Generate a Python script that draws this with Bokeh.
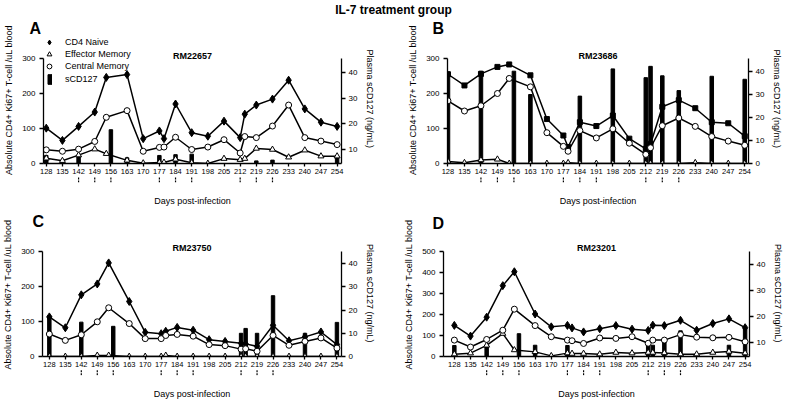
from bokeh.plotting import figure
from bokeh.models import (Range1d, LinearAxis, FixedTicker, Label, Arrow, NormalHead,
                          Legend, LegendItem)
from bokeh.layouts import column, row
from bokeh.embed import file_html
from bokeh.resources import INLINE

FONT = "Liberation Sans"

TITLE = "IL-7 treatment group"
X_TICKS = [128, 135, 142, 149, 156, 163, 170, 177, 184, 191, 198, 205, 212, 219, 226,
           233, 240, 247, 254]
ARROW_DAYS = [142, 149, 156, 177, 184, 191, 212, 219, 226]
SAMPLE_DAYS = [128, 135, 142, 149, 154, 163, 170, 177, 179, 184, 191, 198, 205, 212, 214,
               219, 226, 233, 240, 247, 254]

# Panel A - RM22657
A_naive = [101, 66, 106, 147, 246, 254, 71, 93, 71, 170, 88, 78, 121, 74, 141, 167, 184,
           238, 156, 118, 106]
A_em = [15, 8, 24, 41, 28, 9, 1, 3, 3, 12, 2, 0, 14, 11, 14, 43, 40, 18, 38, 21, 21]
A_cm = [39, 35, 41, 63, 132, 151, 35, 46, 47, 75, 40, 47, 68, 30, 77, 74, 107, 167, 74,
        64, 54]
A_bar_days = [128, 142, 156, 163, 177, 184, 191, 219, 226, 254]
A_bar = [7.9, 8.0, 17.8, 7.0, 7.9, 8.2, 8.4, 5.8, 6.1, 7.6]

# Panel B - RM23686
B_naive = [255, 223, 256, 276, 283, 252, 127, 80, 47, 118, 107, 137, 71, 42, 55, 162, 181,
           158, 118, 115, 78]
B_em = [6, 2, 10, 12, 0, 0, 0, 0, 2, 0, 0, 0, 0, 0, 0, 0, 0, 2, 0, 0, 0]
B_cm = [179, 150, 165, 200, 243, 219, 88, 49, 35, 94, 73, 99, 58, 26, 45, 108, 130, 106,
        77, 64, 52]
B_bar_days = [128, 142, 156, 163, 184, 198, 212, 214, 219, 226, 240, 254]
B_bar = [39.7, 40.0, 40.0, 29.9, 29.2, 41.0, 37.2, 42.1, 38.0, 31.6, 37.8, 36.5]

# Panel C - RM23750
C_naive = [113, 82, 176, 207, 267, 157, 69, 65, 72, 83, 75, 48, 43, 38, 36, 29, 89, 45,
           56, 70, 34]
C_em = [0, 0, 0, 3, 3, 0, 0, 0, 3, 0, 0, 0, 0, 0, 0, 0, 0, 0, 0, 0, 0]
C_cm = [64, 46, 62, 99, 139, 94, 51, 51, 60, 63, 58, 34, 31, 21, 22, 15, 60, 32, 43, 53,
        24]
C_bar_days = [128, 142, 156, 212, 214, 219, 226, 240, 254]
C_bar = [17.6, 14.8, 13.0, 10.0, 12.1, 10.0, 26.2, 10.0, 14.7]

# Panel D - RM23201
D_naive = [148, 97, 187, 337, 403, 202, 141, 148, 136, 117, 132, 147, 130, 124, 149, 147,
           172, 125, 157, 179, 137]
D_em = [11, 16, 53, 109, 31, 22, 3, 16, 14, 14, 11, 19, 16, 19, 19, 17, 11, 11, 19, 24, 16]
D_cm = [78, 45, 81, 125, 225, 147, 94, 78, 75, 62, 88, 86, 94, 63, 78, 78, 104, 92, 89,
        91, 70]
D_bar_days = [128, 142, 156, 163, 177, 212, 214, 219, 226, 247, 254]
D_bar = [9.0, 9.1, 13.5, 9.1, 9.0, 9.3, 9.1, 11.5, 14.6, 9.1, 15.5]

LEGEND_LABELS = ["CD4 Naive", "Effector Memory", "Central Memory", "sCD127"]


def style_axis(ax, tick_out=4):
    ax.axis_line_color = "black"
    ax.axis_line_width = 1.3
    ax.major_tick_line_color = "black"
    ax.major_tick_line_width = 1.3
    ax.major_tick_in = 0
    ax.major_tick_out = tick_out
    ax.minor_tick_line_color = None
    ax.major_label_text_font = FONT
    ax.major_label_text_font_size = "8px"
    ax.major_label_text_color = "black"
    ax.major_label_standoff = 4
    ax.axis_label_text_font = FONT
    ax.axis_label_text_font_size = "9px"
    ax.axis_label_text_font_style = "normal"
    ax.axis_label_text_color = "black"
    ax.axis_label_standoff = 5


def style_legend(leg, glyph_w, standoff):
    leg.label_text_font = FONT
    leg.label_text_font_size = "9px"
    leg.label_text_color = "black"
    leg.glyph_width = glyph_w
    leg.glyph_height = 12
    leg.label_height = 12
    leg.spacing = 0
    leg.padding = 0
    leg.margin = 0
    leg.label_standoff = standoff
    leg.border_line_color = None
    leg.background_fill_alpha = 0


def build(letter, name, naive, em, cm, bar_days, bars, xr, ymax, yticks, rr, rticks,
          w, h, mbl, mbr, mbt, mbb, naive_marker, naive_size, letter_dx, letter_standoff,
          ext, legend_loc=None):
    fh_total = h - mbt - mbb
    fh_axis = fh_total - ext
    scale = fh_total / fh_axis
    p = figure(width=w, height=h, output_backend="svg", toolbar_location=None,
               x_range=Range1d(*xr), y_range=Range1d(0, ymax * scale),
               min_border_left=mbl, min_border_right=mbr,
               min_border_top=mbt, min_border_bottom=mbb, title=letter)
    p.extra_y_ranges = {"r": Range1d(rr[0], rr[0] + (rr[1] - rr[0]) * scale),
                        "px": Range1d(0, fh_total)}
    p.outline_line_color = None
    p.xgrid.visible = False
    p.ygrid.visible = False

    # panel letter as the figure title
    p.title.align = "left"
    p.title.offset = letter_dx
    p.title.standoff = letter_standoff
    p.title.text_font = FONT
    p.title.text_font_size = "16px"
    p.title.text_font_style = "bold"
    p.title.text_color = "black"
    p.title.text_line_height = 1.0

    xa = p.xaxis[0]
    style_axis(xa, 3)
    xa.major_label_text_font_size = "7.5px"
    xa.major_label_standoff = 2
    xa.ticker = FixedTicker(ticks=X_TICKS)
    xa.axis_label = "Days post-infection"
    xa.axis_label_standoff = 19

    ya = p.yaxis[0]
    style_axis(ya)
    ya.ticker = FixedTicker(ticks=yticks)
    ya.bounds = (0, ymax)
    ya.axis_label = "Absolute CD4+ Ki67+ T-cell /uL blood"

    ra = LinearAxis(y_range_name="r", ticker=FixedTicker(ticks=rticks),
                    axis_label="Plasma  sCD127 (ng/mL)", bounds=rr)
    style_axis(ra)
    ra.major_label_standoff = 3
    ra.axis_label_standoff = 5
    p.add_layout(ra, "right")

    rb = p.vbar(x=bar_days, top=bars, bottom=rr[0], width=1.5, y_range_name="r",
                fill_color="black", line_color="black")
    for vals in (naive, cm, em):
        p.line(SAMPLE_DAYS, vals, line_color="black", line_width=1.5)
    rn = p.scatter(SAMPLE_DAYS, naive, marker=naive_marker, size=naive_size,
                   fill_color="black", line_color="black")
    re = p.scatter(SAMPLE_DAYS, em, marker="triangle", size=6, fill_color="white",
                   line_color="black", line_width=1)
    rc = p.scatter(SAMPLE_DAYS, cm, marker="circle", size=6, fill_color="white",
                   line_color="black", line_width=1)

    for d in ARROW_DAYS:
        p.add_layout(Arrow(end=NormalHead(size=6, fill_color="black", line_color="black",
                                          line_width=1),
                           x_start=d, y_start=-28, x_end=d, y_end=-13, y_range_name="px",
                           line_color="black", line_width=1.2, line_dash="2 1"))

    # sample name just above the top of the axes (inside the extended frame)
    p.add_layout(Label(x=(xr[0] + xr[1]) / 2, y=fh_axis + 3, y_range_name="px",
                       text=name, text_align="center", text_baseline="alphabetic",
                       text_font=FONT, text_font_size="9px", text_font_style="bold",
                       text_color="black"))

    if legend_loc is not None:
        lx, ly = legend_loc
        leg = Legend(items=[LegendItem(label=LEGEND_LABELS[0], renderers=[rn]),
                            LegendItem(label=LEGEND_LABELS[1], renderers=[re]),
                            LegendItem(label=LEGEND_LABELS[2], renderers=[rc])],
                     location=(lx, ly))
        style_legend(leg, 12, 10)
        p.add_layout(leg)
        leg2 = Legend(items=[LegendItem(label=LEGEND_LABELS[3], renderers=[rb])],
                      location=(lx + 4, ly - 13))
        style_legend(leg2, 5, 13)
        p.add_layout(leg2)
    return p


# row 1: canvas y 17..208, frame 36..163 (axes 58..163)
pA = build("A", "RM22657", A_naive, A_em, A_cm, A_bar_days, A_bar, (126.8, 255.9), 300,
           [0, 100, 200, 300], (4.8, 45.2), [10, 20, 30, 40],
           393, 191, 43, 52, 19, 45, "diamond", 8, -14, 0, 22, legend_loc=(0, 91))
pB = build("B", "RM23686", B_naive, B_em, B_cm, B_bar_days, B_bar, (127.8, 255.6), 300,
           [0, 100, 200, 300], (0, 45.5), [0, 10, 20, 30, 40],
           393, 191, 54, 38, 19, 45, "square", 5, -15, 0, 22)
# row 2: canvas y 208..401, frame 231..356 (axes 250..356)
pC = build("C", "RM23750", C_naive, C_em, C_cm, C_bar_days, C_bar, (125.0, 256.0), 300,
           [0, 100, 200, 300], (0, 45.3), [0, 10, 20, 30, 40],
           393, 193, 39, 52, 23, 45, "diamond", 8, -10, 5, 19)
pD = build("D", "RM23201", D_naive, D_em, D_cm, D_bar_days, D_bar, (123.3, 255.9), 500,
           [0, 100, 200, 300, 400, 500], (4.8, 44.9), [10, 20, 30, 40],
           393, 193, 50, 37, 23, 45, "diamond", 8, -11, 2, 19)

tf = figure(width=786, height=17, output_backend="svg", toolbar_location=None,
            x_range=Range1d(0, 1), y_range=Range1d(0, 1), x_axis_type=None,
            y_axis_type=None, min_border=0)
tf.outline_line_color = None
tf.grid.visible = False
tf.add_layout(Label(x=0.5, y=0.45, text=TITLE, text_align="center", text_baseline="middle",
                    text_font=FONT, text_font_size="12px", text_font_style="bold",
                    text_color="black"))

layout = column(tf, row(pA, pB), row(pC, pD))
open("out.html", "w").write(file_html(layout, INLINE))
